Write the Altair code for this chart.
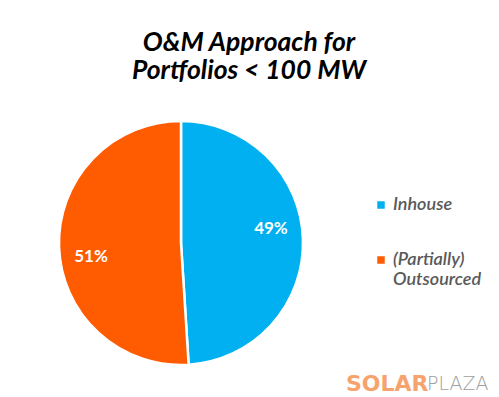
import altair as alt
import pandas as pd

categories = ["Inhouse", "(Partially) Outsourced"]
values = [49, 51]
labels = ["49%", "51%"]
colors = ["#00B0F0", "#FF5B00"]

df = pd.DataFrame({"cat": categories, "val": values, "lab": labels, "ord": [0, 1]})

W, H = 346, 290
R = 122

base = alt.Chart(df).encode(
    theta=alt.Theta("val:Q", stack=True),
    order=alt.Order("ord:Q"),
)

pie = base.mark_arc(outerRadius=R, stroke="white", strokeWidth=2.5).encode(
    color=alt.Color(
        "cat:N",
        scale=alt.Scale(domain=categories, range=colors),
        sort=categories,
        legend=alt.Legend(
            title=None,
            orient="none",
            legendX=364,
            legendY=98,
            symbolType="square",
            symbolSize=56,
            symbolStrokeWidth=0,
            labelFont="Lato",
            labelFontStyle="italic",
            labelFontWeight=600,
            labelFontSize=18,
            labelColor="#595959",
            labelLimit=200,
            rowPadding=37,
            labelOffset=3,
            labelExpr="datum.label == '(Partially) Outsourced' ? ['(Partially)', 'Outsourced'] : datum.label",
        ),
    )
)

text = base.mark_text(
    radius=91,
    thetaOffset=-0.12,
    font="Lato",
    fontWeight="bold",
    fontSize=17,
    color="white",
).encode(text="lab:N")

logo1 = alt.Chart(pd.DataFrame({"t": ["SOLAR"]})).mark_text(
    font="DejaVu Sans", fontWeight="bold", fontSize=22, color="#F7A36E", align="left", baseline="middle"
).encode(x=alt.value(338), y=alt.value(286), text="t:N")
logo2 = alt.Chart(pd.DataFrame({"t": ["PLAZA"]})).mark_text(
    font="DejaVu Sans", fontWeight=200, fontSize=19, color="#A0A0A0", align="left", baseline="middle"
).encode(x=alt.value(419), y=alt.value(286), text="t:N")

chart = alt.layer(pie, text, logo1, logo2).properties(
    width=W,
    height=H,
    autosize=alt.AutoSizeParams(type="none"),
    padding={"top": 90, "left": 0, "right": 137, "bottom": 9},
    title=alt.TitleParams(
        text=["O&M Approach for", "Portfolios < 100 MW"],
        font="Lato",
        fontSize=26.5,
        fontWeight="bold",
        fontStyle="italic",
        color="black",
        anchor="middle",
        frame="group",
        dx=68,
        lineHeight=28,
        offset=14,
    ),
).configure_view(stroke=None)

chart.save("out.html", embed_options={"renderer": "svg", "actions": False})
